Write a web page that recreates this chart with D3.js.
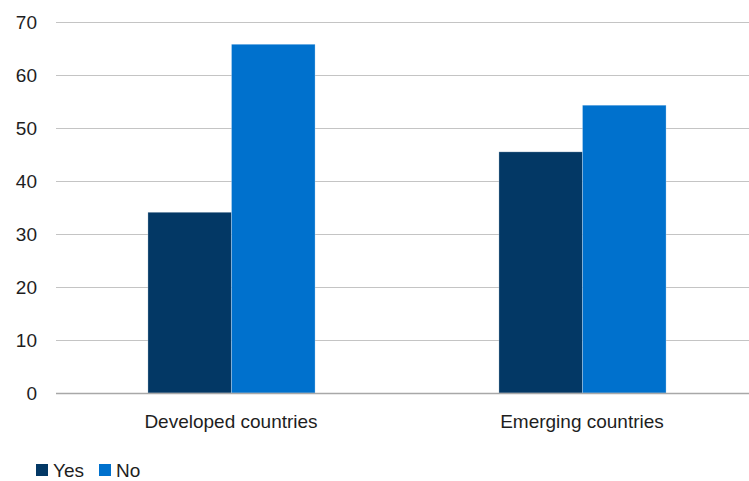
<!DOCTYPE html>
<html><head><meta charset="utf-8">
<script src="https://cdn.jsdelivr.net/npm/d3@7"></script>
<style>body{margin:0;background:#fff}svg{display:block}</style>
</head><body>
<svg id="c" width="749" height="481"></svg>
<script>
const categories = ["Developed countries", "Emerging countries"];
const seriesNames = ["Yes", "No"];
const yesValues = [34.1, 45.5];
const noValues = [65.8, 54.3];
const yTicks = [0, 10, 20, 30, 40, 50, 60, 70];
const colors = ["#033865", "#0071cd"];

const seriesValues = [yesValues, noValues];
const svg = d3.select("#c");
const font = "'Liberation Sans', Arial, sans-serif";

const y = d3.scaleLinear().domain([0, 70]).range([393, 22]);
const x0 = d3.scaleBand().domain(categories).range([56, 758]).paddingInner(0).paddingOuter(0);
const x1 = d3.scaleBand().domain(seriesNames).range([0, x0.bandwidth()]).paddingInner(0).paddingOuter(1.1);

// gridlines
svg.append("g").selectAll("line").data(yTicks.filter(d => d > 0)).join("line")
  .attr("x1", 56).attr("x2", 749)
  .attr("y1", d => Math.round(y(d)) + 0.5).attr("y2", d => Math.round(y(d)) + 0.5)
  .attr("stroke", "#c4c4c4").attr("stroke-width", 1);

// y tick labels
svg.append("g").selectAll("text").data(yTicks).join("text")
  .attr("x", 37).attr("y", d => y(d) + 7)
  .attr("text-anchor", "end")
  .attr("font-family", font).attr("font-size", 19).attr("fill", "#1e1e1e")
  .text(d => d);

// bars
const groups = svg.append("g").selectAll("g").data(categories).join("g")
  .attr("transform", c => `translate(${x0(c)},0)`);
groups.selectAll("rect").data((c, i) => seriesNames.map((s, j) => ({s, v: seriesValues[j][i], j})))
  .join("rect")
  .attr("x", d => x1(d.s))
  .attr("width", x1.bandwidth())
  .attr("y", d => y(d.v))
  .attr("height", d => y(0) - y(d.v))
  .attr("fill", d => colors[d.j])
  .attr("stroke", "rgba(255,255,255,0.35)").attr("stroke-width", 0.75);

// baseline axis
svg.append("line").attr("x1", 56).attr("x2", 749).attr("y1", y(0) + 0.5).attr("y2", y(0) + 0.5)
  .attr("stroke", "#a8a8a8").attr("stroke-width", 1.6);

// category labels
svg.append("g").selectAll("text").data(categories).join("text")
  .attr("x", c => x0(c) + x0.bandwidth() / 2 - 0.5).attr("y", 428)
  .attr("text-anchor", "middle")
  .attr("font-family", font).attr("font-size", 19).attr("fill", "#1e1e1e")
  .text(c => c);

// legend
const legX = [36, 99];
const leg = svg.append("g").selectAll("g").data(seriesNames).join("g")
  .attr("transform", (d, i) => `translate(${legX[i]},0)`);
leg.append("rect").attr("x", 0).attr("y", 464).attr("width", 12).attr("height", 12)
  .attr("fill", (d, i) => colors[i]);
leg.append("text").attr("x", 17).attr("y", 477)
  .attr("font-family", font).attr("font-size", 19).attr("fill", "#1e1e1e")
  .text(d => d);
</script>
</body></html>
